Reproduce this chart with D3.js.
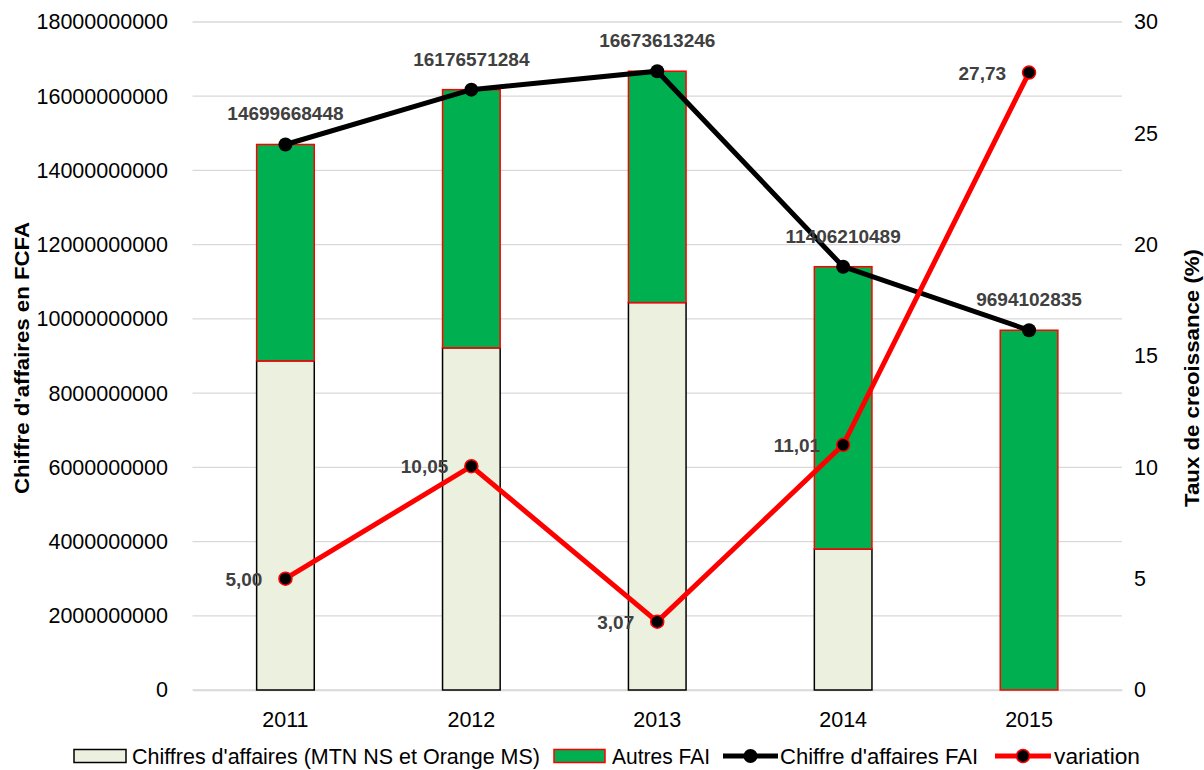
<!DOCTYPE html>
<html><head><meta charset="utf-8">
<script src="https://cdn.jsdelivr.net/npm/d3@7"></script>
<style>body{margin:0;background:#fff}svg{display:block}</style>
</head><body>
<svg id="c" width="1204" height="770"></svg>
<script>
const years = ["2011","2012","2013","2014","2015"];
const mtnOrange = [8870000000, 9220000000, 10440000000, 3800000000, 0];
const totalFAI = [14699668448, 16176571284, 16673613246, 11406210489, 9694102835];
const variation = [5.00, 10.05, 3.07, 11.01, 27.73];
const leftTicks = [0,2000000000,4000000000,6000000000,8000000000,10000000000,12000000000,14000000000,16000000000,18000000000];
const rightTicks = [0,5,10,15,20,25,30];
const autres = totalFAI.map((t,i)=>t-mtnOrange[i]);

const FONT = "'Liberation Sans', Arial, sans-serif";
const svg = d3.select("#c");
const x = d3.scaleBand().domain(years).range([192.5,1122]).paddingInner(0.69).paddingOuter(0.345);
const yL = d3.scaleLinear().domain([0,18000000000]).range([690,22]);
const yR = d3.scaleLinear().domain([0,30]).range([690,22]);

// gridlines
svg.append("g").selectAll("line").data(leftTicks).join("line")
  .attr("x1",192.5).attr("x2",1122).attr("y1",d=>yL(d)).attr("y2",d=>yL(d))
  .attr("stroke","#d9d9d9").attr("stroke-width",1.3);

// left axis
const gL = svg.append("g").attr("transform","translate(180,0)")
  .call(d3.axisLeft(yL).tickValues(leftTicks).tickFormat(d3.format("d")).tickSize(0).tickPadding(12));
gL.select(".domain").remove();
gL.selectAll("text").attr("font-family",FONT).attr("font-size",21.5).attr("fill","#000");

// right axis
const gR = svg.append("g").attr("transform","translate(1122,0)")
  .call(d3.axisRight(yR).tickValues(rightTicks).tickSize(0).tickPadding(12));
gR.select(".domain").remove();
gR.selectAll("text").attr("font-family",FONT).attr("font-size",21.5).attr("fill","#000");

// bottom axis
const gB = svg.append("g").attr("transform","translate(0,690)")
  .call(d3.axisBottom(x).tickSize(0).tickPadding(22));
gB.select(".domain").attr("stroke","#d9d9d9").attr("stroke-width",1.3);
gB.selectAll("text").attr("font-family",FONT).attr("font-size",21.5).attr("fill","#000");

// bars
const bw = x.bandwidth();
svg.append("g").selectAll("rect").data(years.filter((y,i)=>mtnOrange[i]>0)).join("rect")
  .attr("x",d=>x(d)).attr("width",bw)
  .attr("y",d=>yL(mtnOrange[years.indexOf(d)])).attr("height",d=>yL(0)-yL(mtnOrange[years.indexOf(d)]))
  .attr("fill","#ebf1de").attr("stroke","#000").attr("stroke-width",1.5);
svg.append("g").selectAll("rect").data(years).join("rect")
  .attr("x",(d)=>x(d)).attr("width",bw)
  .attr("y",(d,i)=>yL(mtnOrange[i]+autres[i])).attr("height",(d,i)=>yL(mtnOrange[i])-yL(mtnOrange[i]+autres[i]))
  .attr("fill","#00b050").attr("stroke","#ff0000").attr("stroke-width",1.5);

const cx = d=>x(d)+bw/2;
// total line
svg.append("path").datum(years).attr("fill","none").attr("stroke","#000").attr("stroke-width",5)
  .attr("d",d3.line().x(cx).y((d,i)=>yL(totalFAI[i])));
svg.append("g").selectAll("circle").data(years).join("circle")
  .attr("cx",cx).attr("cy",(d,i)=>yL(totalFAI[i])).attr("r",7).attr("fill","#000");
// variation line
svg.append("path").datum(years).attr("fill","none").attr("stroke","#ff0000").attr("stroke-width",5)
  .attr("d",d3.line().x(cx).y((d,i)=>yR(variation[i])));
svg.append("g").selectAll("circle").data(years).join("circle")
  .attr("cx",cx).attr("cy",(d,i)=>yR(variation[i])).attr("r",6.5).attr("fill","#000")
  .attr("stroke","#ff0000").attr("stroke-width",1.5);

// labels
svg.append("g").selectAll("text").data(years).join("text")
  .attr("x",cx).attr("y",(d,i)=>yL(totalFAI[i])-24).attr("text-anchor","middle")
  .attr("font-family",FONT).attr("font-weight","bold").attr("font-size",19).attr("fill","#404040")
  .text((d,i)=>totalFAI[i]);
const fr = d3.formatLocale({decimal:",",thousands:" ",grouping:[3],currency:["","€"]}).format(".2f");
svg.append("g").selectAll("text").data(years).join("text")
  .attr("x",d=>cx(d)-23).attr("y",(d,i)=>yR(variation[i])+7).attr("text-anchor","end")
  .attr("font-family",FONT).attr("font-weight","bold").attr("font-size",19).attr("fill","#404040")
  .text((d,i)=>fr(variation[i]));

// axis titles
svg.append("text").attr("transform","translate(29,358) rotate(-90)").attr("text-anchor","middle")
  .attr("font-family",FONT).attr("font-weight","bold").attr("font-size",20)
  .attr("textLength",272).attr("lengthAdjust","spacingAndGlyphs").text("Chiffre d'affaires en FCFA");
svg.append("text").attr("transform","translate(1199,378) rotate(-90)").attr("text-anchor","middle")
  .attr("font-family",FONT).attr("font-weight","bold").attr("font-size",20)
  .attr("textLength",258).attr("lengthAdjust","spacingAndGlyphs").text("Taux de creoissance (%)");

// legend
const lg = svg.append("g").attr("font-family",FONT).attr("font-size",21.5);
const ly = 756;
function ltext(xp, w, s){
  lg.append("text").attr("x",xp).attr("y",ly+8).attr("textLength",w).attr("lengthAdjust","spacingAndGlyphs").text(s);
}
lg.append("rect").attr("x",74).attr("y",ly-6.5).attr("width",52).attr("height",13).attr("fill","#ebf1de").attr("stroke","#000").attr("stroke-width",1.5);
ltext(132, 408, "Chiffres d'affaires (MTN NS et Orange MS)");
lg.append("rect").attr("x",554).attr("y",ly-6.5).attr("width",51).attr("height",13).attr("fill","#00b050").attr("stroke","#ff0000").attr("stroke-width",1.5);
ltext(612, 98, "Autres FAI");
lg.append("line").attr("x1",723).attr("x2",778).attr("y1",ly).attr("y2",ly).attr("stroke","#000").attr("stroke-width",5);
lg.append("circle").attr("cx",750.5).attr("cy",ly).attr("r",7).attr("fill","#000");
ltext(780, 198, "Chiffre d'affaires FAI");
lg.append("line").attr("x1",995).attr("x2",1051).attr("y1",ly).attr("y2",ly).attr("stroke","#ff0000").attr("stroke-width",5);
lg.append("circle").attr("cx",1023).attr("cy",ly).attr("r",6.5).attr("fill","#000").attr("stroke","#ff0000").attr("stroke-width",1.5);
ltext(1054, 86, "variation");
</script>
</body></html>
